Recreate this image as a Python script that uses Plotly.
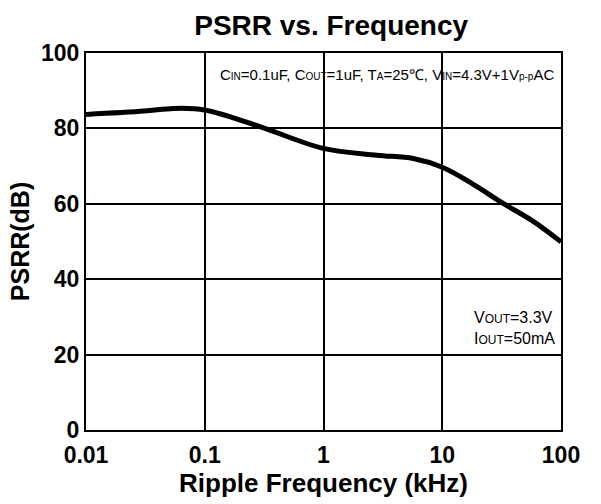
import plotly.graph_objects as go

freq_khz = [0.01, 0.031, 0.055, 0.1, 0.295, 1, 2.8, 5.7, 10, 18, 32.6, 58, 100]
psrr_db = [83.7, 84.6, 85.3, 84.9, 80.4, 74.7, 72.9, 72.0, 69.7, 65.3, 60.1, 55.4, 49.9]

x_ticks = [0.01, 0.1, 1, 10, 100]
x_tick_labels = ["0.01", "0.1", "1", "10", "100"]
y_ticks = [0, 20, 40, 60, 80, 100]

FONT = "Liberation Sans, Arial"

fig = go.Figure()
fig.add_trace(go.Scatter(
    x=freq_khz, y=psrr_db, mode="lines",
    line=dict(color="black", width=5, shape="spline", smoothing=1.0),
    showlegend=False, hoverinfo="skip"))

fig.update_layout(
    width=601, height=504,
    margin=dict(l=86, r=40, t=53, b=74, autoexpand=False),
    paper_bgcolor="white", plot_bgcolor="white",
    title=dict(text="<b>PSRR vs. Frequency</b>", x=0.551, xanchor="center",
               y=0.95, yanchor="middle",
               font=dict(family=FONT, size=28, color="black")),
    xaxis=dict(type="log", range=[-2, 2], tickvals=x_ticks,
               ticktext=["<b>%s</b>" % t for t in x_tick_labels],
               showgrid=True, gridcolor="black", gridwidth=1.5,
               showline=True, linecolor="black", linewidth=2, mirror=True,
               ticks="", tickfont=dict(family=FONT, size=23, color="black"),
               ticklabelstandoff=3,
               automargin=False,
               title=dict(text="<b>Ripple Frequency (kHz)</b>", standoff=0,
                          font=dict(family=FONT, size=26, color="black")),
               zeroline=False),
    yaxis=dict(range=[0, 100], tickvals=y_ticks,
               ticktext=["<b>%d</b>" % v for v in y_ticks],
               showgrid=True, gridcolor="black", gridwidth=1.5,
               showline=True, linecolor="black", linewidth=2, mirror=True,
               ticks="", tickfont=dict(family=FONT, size=23, color="black"),
               automargin=False,
               title=dict(text="<b>PSRR(dB)</b>", standoff=4,
                          font=dict(family=FONT, size=25, color="black")),
               zeroline=False),
)

s = '<span style="font-size:10px">%s</span>'
cond = ("C" + s % "IN" + "=0.1uF, C" + s % "OUT" + "=1uF, T" + s % "A" +
        "=25℃, V" + s % "IN" + "=4.3V+1V" + s % "p-p" + "AC")
fig.add_annotation(xref="paper", yref="paper", x=0.99, y=0.942, xanchor="right",
                   yanchor="middle", text=cond, showarrow=False,
                   font=dict(family=FONT, size=15, color="black"))
o = '<span style="font-size:12px">OUT</span>'
out_txt = "V" + o + "=3.3V<br>I" + o + "=50mA"
fig.add_annotation(xref="paper", yref="paper", x=0.813, y=0.271, xanchor="left",
                   yanchor="middle", text=out_txt, showarrow=False, align="left",
                   font=dict(family=FONT, size=16, color="black"))

fig.write_html("out.html", config={"displayModeBar": False},
               post_script="document.body.style.margin='0px';")
